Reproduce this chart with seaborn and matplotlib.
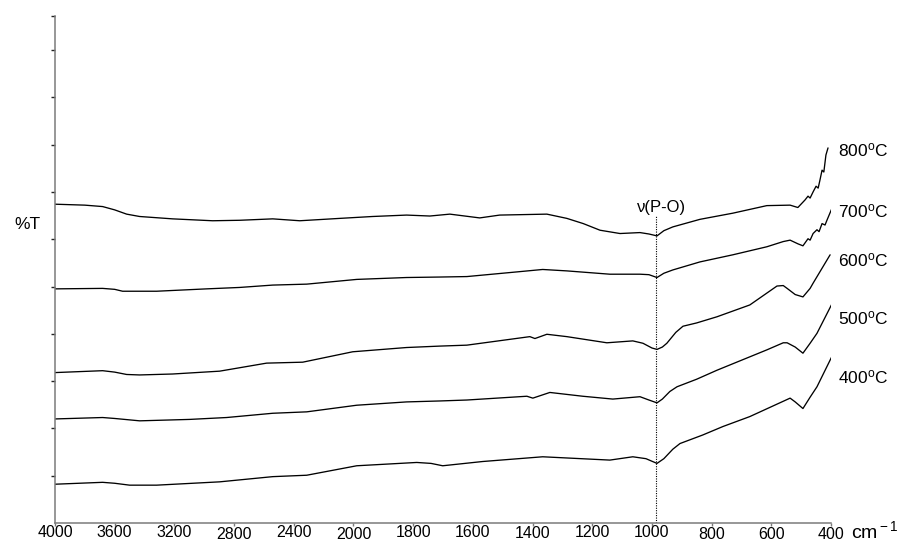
import numpy as np
import pandas as pd
import matplotlib
matplotlib.use("Agg")
import matplotlib.pyplot as plt
import seaborn as sns

# ---------------- data ----------------
wn_800 = [4000, 3800, 3681, 3600, 3520, 3433, 3212, 2944, 2763, 2541, 2360, 2092, 1936, 1822, 1744, 1677,
          1577, 1510, 1352, 1285, 1230, 1174, 1107, 1040, 1010, 983, 960, 930, 839, 729, 615, 537, 511, 487,
          477, 470, 460, 450, 443, 437, 430, 424, 417, 410]
t_800 = [67.4, 67.2, 66.9, 66.2, 65.3, 64.8, 64.3, 63.9, 64.0, 64.3, 63.9, 64.4, 64.8, 65.1, 64.9, 65.3,
         64.5, 65.1, 65.3, 64.4, 63.3, 61.9, 61.2, 61.4, 61.1, 60.7, 61.8, 62.6, 64.2, 65.5, 67.1, 67.2, 66.7, 68.3,
         69.1, 68.7, 70.0, 71.2, 70.8, 72.5, 74.6, 74.2, 77.8, 79.3]

wn_700 = [4000, 3681, 3600, 3547, 3319, 2984, 2763, 2541, 2313, 1989, 1822, 1711, 1620, 1450, 1366, 1285,
          1141, 1040, 1010, 983, 960, 930, 839, 729, 615, 560, 537, 510, 494, 477, 470, 460, 447, 440, 430, 420, 413, 397]
t_700 = [49.5, 49.6, 49.4, 49.0, 49.0, 49.5, 49.8, 50.3, 50.5, 51.5, 51.9, 52.0, 52.1, 53.1, 53.6, 53.3,
         52.6, 52.6, 52.5, 51.9, 52.8, 53.5, 55.2, 56.7, 58.4, 59.5, 59.8, 59.0, 58.6, 60.1, 59.8, 61.2, 62.0, 61.6, 63.3, 63.0, 64.1, 66.5]

wn_600 = [4000, 3681, 3600, 3520, 3433, 3212, 2897, 2582, 2340, 2005, 1822, 1711, 1620, 1409, 1392,
          1352, 1285, 1151, 1064, 1030, 1000, 983, 965, 950, 920, 896, 850, 782, 672, 581, 560, 547, 520, 494, 470, 460, 403]
t_600 = [31.8, 32.2, 31.9, 31.4, 31.3, 31.5, 32.1, 33.8, 34.0, 36.2, 37.1, 37.4, 37.6, 39.4, 39.0,
         39.9, 39.4, 38.1, 38.5, 38.0, 37.0, 36.7, 37.2, 38.0, 40.3, 41.6, 42.3, 43.6, 46.1, 50.1, 50.2, 49.6, 48.3, 47.8, 49.6, 50.7, 56.7]

wn_500 = [4000, 3681, 3600, 3433, 3098, 2850, 2541, 2313, 1989, 1822, 1711, 1620, 1419, 1399, 1342,
          1232, 1131, 1040, 1010, 983, 965, 940, 916, 850, 782, 615, 560, 547, 520, 494, 470, 447, 397]
t_500 = [22.0, 22.3, 22.1, 21.6, 21.9, 22.3, 23.2, 23.5, 24.9, 25.6, 25.8, 26.0, 26.8, 26.4, 27.6,
         26.8, 26.2, 26.7, 26.0, 25.4, 26.2, 27.8, 28.8, 30.4, 32.3, 36.6, 38.1, 38.1, 37.2, 35.9, 38.0, 40.1, 46.3]

wn_400 = [4000, 3681, 3600, 3500, 3319, 2897, 2541, 2313, 1989, 1788, 1740, 1701, 1567, 1366, 1141, 1064,
          1020, 983, 960, 930, 906, 830, 762, 672, 537, 520, 494, 470, 447, 397]
t_400 = [8.2, 8.6, 8.4, 8.0, 8.0, 8.7, 9.8, 10.1, 12.1, 12.8, 12.6, 12.1, 13.0, 14.0, 13.3, 14.0,
         13.6, 12.6, 13.6, 15.6, 16.8, 18.6, 20.4, 22.5, 26.4, 25.6, 24.2, 26.6, 28.8, 35.2]

series_names = ["800", "700", "600", "500", "400"]
label_y = [78.9, 65.8, 55.6, 43.3, 30.9]
x_ticks = [4000, 3600, 3200, 2800, 2400, 2000, 1800, 1600, 1400, 1200, 1000, 800, 600, 400]
x_tick_drop = [0, 0, 0, 1.5, 0, 1.5, 0, 0, 1, 0, 0, 1.5, 1.5, 1.5]  # px label stagger
po_band = 985
po_top = 65.1

# ---------------- styling ----------------
sns.set_theme(style="white")
plt.rcParams["font.family"] = ["Liberation Sans", "DejaVu Sans"]
plt.rcParams["mathtext.fontset"] = "custom"
plt.rcParams["mathtext.rm"] = "Liberation Sans"
plt.rcParams["mathtext.it"] = "Liberation Sans"
plt.rcParams["text.color"] = "black"
plt.rcParams["axes.labelcolor"] = "black"
plt.rcParams["xtick.labelcolor"] = "black"

W, H = 898, 542
fig = plt.figure(figsize=(W / 100, H / 100), dpi=100)
ax = fig.add_axes([55 / W, (H - 523) / H, (831 - 55) / W, (523 - 16) / H])


def fwd(x):
    x = np.asarray(x, dtype=float)
    return np.where(x <= 2000, x, 2000 + (x - 2000) / 2)


def inv(y):
    y = np.asarray(y, dtype=float)
    return np.where(y <= 2000, y, 2000 + (y - 2000) * 2)


ax.set_xscale("function", functions=(fwd, inv))

frames = []
for name, wn, t in zip(series_names,
                       [wn_800, wn_700, wn_600, wn_500, wn_400],
                       [t_800, t_700, t_600, t_500, t_400]):
    frames.append(pd.DataFrame({"wn": wn, "T": t, "temp": name}))
df = pd.concat(frames, ignore_index=True)

for name in series_names:
    sub = df[df["temp"] == name]
    sns.lineplot(data=sub, x="wn", y="T", ax=ax, color="black", linewidth=0.95,
                 sort=False, estimator=None)

ax.plot([po_band, po_band], [0, po_top], color="black", linestyle=(0, (1, 1.2)), linewidth=0.8)
ax.text(967, 66.6, "ν(P-O)", fontsize=12, ha="center", va="center")

for name, yl in zip(series_names, label_y):
    ax.text(376, yl, name + r"$^{\rm o}$C", fontsize=12.5, ha="left", va="center", clip_on=False)

ax.set_xlim(4000, 400)
ax.set_ylim(0, (523 - 16) / 4.73)

ax.set_xticks(x_ticks)
ax.set_xticklabels([str(v) for v in x_ticks])
ax.set_yticks(list(np.arange(10, 101, 10)) + [(523 - 16) / 4.73])
ax.set_yticklabels([])
ax.minorticks_off()

for s in ["top", "right"]:
    ax.spines[s].set_visible(False)
for s in ["left", "bottom"]:
    ax.spines[s].set_color("#7a7a7a")
    ax.spines[s].set_linewidth(1.1)

ax.tick_params(axis="x", direction="out", length=2.5, width=1.0, color="#7a7a7a",
               labelsize=11.5, pad=-1, bottom=True, labelcolor="black")
ax.tick_params(axis="y", direction="out", length=3, width=1.0, color="#222222", left=True)

for tick, d in zip(ax.xaxis.get_major_ticks(), x_tick_drop):
    tick.label1.set_y(-d / 507)

ax.set_xlabel("")
ax.set_ylabel("%T", rotation=0, fontsize=12.5, va="center", ha="center")
ax.yaxis.set_label_coords(-0.036, 0.588)

ax.text((851 - 55) / 776, -0.03, r"cm$^{\rm -1}$", transform=ax.transAxes,
        fontsize=14, ha="left", va="baseline", clip_on=False)

fig.savefig("out.png", dpi=100)
